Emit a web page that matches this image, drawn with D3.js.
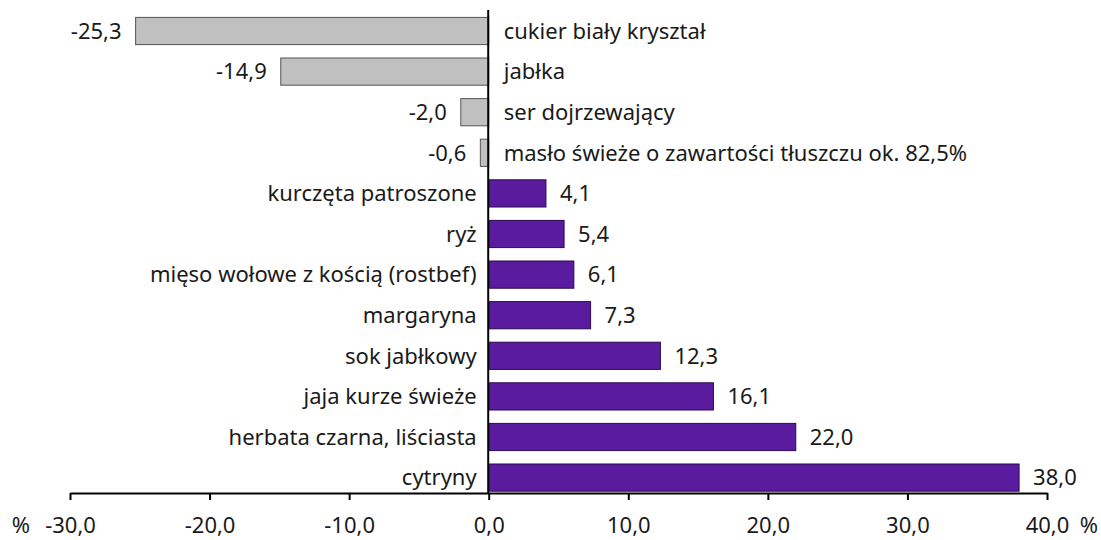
<!DOCTYPE html>
<meta charset="utf-8">
<style>
body { margin: 0; background: #fff; }
text { font-family: "Noto Sans", sans-serif; font-size: 22px; fill: #1a1a1a; }
</style>
<body>
<svg id="chart" width="1101" height="540"></svg>
<script src="https://d3js.org/d3.v7.min.js"></script>
<script>
// dane
var categories = ["cukier biały kryształ", "jabłka", "ser dojrzewający",
  "masło świeże o zawartości tłuszczu ok. 82,5%", "kurczęta patroszone", "ryż",
  "mięso wołowe z kością (rostbef)", "margaryna", "sok jabłkowy",
  "jaja kurze świeże", "herbata czarna, liściasta", "cytryny"];
var values = [-25.3, -14.9, -2.0, -0.6, 4.1, 5.4, 6.1, 7.3, 12.3, 16.1, 22.0, 38.0];
var ticks = [-30, -20, -10, 0, 10, 20, 30, 40];

var fmt = function (v) { return v.toFixed(1).replace(".", ","); };

var svg = d3.select("#chart");

var x = d3.scaleLinear().domain([-30, 40]).range([70, 1047]);
var y = d3.scaleBand().domain(categories).range([10.7, 497.9]).paddingInner(0.33).paddingOuter(0.165);

var rows = svg.selectAll("g.row").data(categories).enter().append("g").attr("class", "row");

rows.append("rect")
  .attr("x", function (d, i) { return Math.min(x(0), x(values[i])); })
  .attr("y", function (d) { return y(d); })
  .attr("width", function (d, i) { return Math.abs(x(values[i]) - x(0)); })
  .attr("height", y.bandwidth())
  .attr("fill", function (d, i) { return values[i] < 0 ? "#c0c0c0" : "#5b1b9f"; })
  .attr("stroke", function (d, i) { return values[i] < 0 ? "#555" : "#2a0a50"; })
  .attr("stroke-width", 1);

// wartości
rows.append("text")
  .attr("x", function (d, i) { return values[i] < 0 ? x(values[i]) - 14 : x(values[i]) + 14; })
  .attr("y", function (d) { return y(d) + y.bandwidth() / 2; })
  .attr("dy", "0.35em")
  .attr("text-anchor", function (d, i) { return values[i] < 0 ? "end" : "start"; })
  .text(function (d, i) { return fmt(values[i]); });

// kategorie
rows.append("text")
  .attr("x", function (d, i) { return values[i] < 0 ? x(0) + 15 : x(0) - 12; })
  .attr("y", function (d) { return y(d) + y.bandwidth() / 2; })
  .attr("dy", "0.35em")
  .attr("text-anchor", function (d, i) { return values[i] < 0 ? "start" : "end"; })
  .text(function (d) { return d; });

// linia zera
svg.append("line")
  .attr("x1", x(0) - 0.5).attr("x2", x(0) - 0.5)
  .attr("y1", 10).attr("y2", 493)
  .attr("stroke", "#000").attr("stroke-width", 2);

// oś x
var axis = svg.append("g").attr("transform", "translate(0,493)")
  .call(d3.axisBottom(x).tickValues(ticks).tickSize(7).tickSizeOuter(0).tickFormat(fmt));
axis.select(".domain").attr("stroke", "#000").attr("stroke-width", 2);
axis.selectAll(".tick line").attr("stroke", "#000").attr("stroke-width", 2);
axis.selectAll(".tick text").attr("y", 32).attr("dy", "0.35em")
  .style("font-size", "22px").style("font-family", "'Noto Sans', sans-serif").style("fill", "#1a1a1a");

svg.append("text").attr("x", 21).attr("y", 525).attr("dy", "0.35em").attr("text-anchor", "middle").text("%");
svg.append("text").attr("x", 1089).attr("y", 525).attr("dy", "0.35em").attr("text-anchor", "middle").text("%");
</script>
</body>
